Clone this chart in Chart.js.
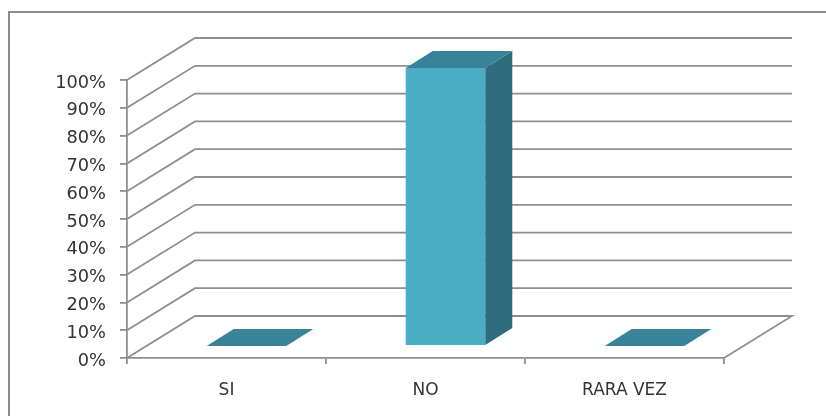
<!DOCTYPE html>
<html>
<head>
<meta charset="utf-8">
<style>
html,body{margin:0;padding:0;background:#fff;overflow:hidden}
#frame{position:absolute;left:8px;top:11px;width:830px;height:430px;border:2px solid #8c8c8c;box-sizing:border-box}
#holder{position:absolute;left:0;top:0;width:826px;height:416px}
</style>
<script src="https://cdn.jsdelivr.net/npm/chart.js@4"></script>
</head>
<body>
<div id="frame"></div>
<div id="holder"><canvas id="chart"></canvas></div>
<script>
const categories = ['SI', 'NO', 'RARA VEZ'];
const values = [0, 100, 0];
const yTicks = [0, 10, 20, 30, 40, 50, 60, 70, 80, 90, 100];

const colors = {front:'#4bacc6', top:'#388399', side:'#2f6c7e', grid:'#8e8e8e', text:'#333333'};

// depth of the fake 3d box, and of each bar inside it
const wallDepth = {x:68, y:-42};
const barShift = {x:20, y:-12};
const barDepth = {x:27, y:-17};

const walls3d = {
	id:'walls3d',
	beforeDraw(chart){
		// digits sit high with a middle baseline, nudge the y labels down
		for (const item of chart.scales.y.getLabelItems()){
			if (!item.nudged){
				item.options.translation[1] += 3;
				item.nudged = true;
			}
		}
	},
	beforeDatasetsDraw(chart){
		const {ctx, chartArea:a, scales} = chart;
		ctx.save();
		ctx.strokeStyle = colors.grid;
		ctx.lineWidth = 1.8;
		for (const v of yTicks){
			let y = scales.y.getPixelForValue(v);
			ctx.beginPath();
			ctx.moveTo(a.left, y);
			ctx.lineTo(a.left+wallDepth.x, y+wallDepth.y);
			ctx.lineTo(a.right+wallDepth.x, y+wallDepth.y);
			if (v == 0){
				ctx.lineTo(a.right, y);
			}
			ctx.stroke();
		}
		ctx.restore();
		// bars get drawn in the middle of the floor, not on the front edge
		ctx.save();
		ctx.translate(barShift.x, barShift.y);
	},
	afterDatasetsDraw(chart){
		const ctx = chart.ctx;
		for (const bar of chart.getDatasetMeta(0).data){
			let left = bar.x-bar.width/2, right = bar.x+bar.width/2;
			ctx.fillStyle = colors.side;
			ctx.beginPath();
			ctx.moveTo(right, bar.y);
			ctx.lineTo(right+barDepth.x, bar.y+barDepth.y);
			ctx.lineTo(right+barDepth.x, bar.base+barDepth.y);
			ctx.lineTo(right, bar.base);
			ctx.fill();
			ctx.fillStyle = colors.top;
			ctx.beginPath();
			ctx.moveTo(left, bar.y);
			ctx.lineTo(left+barDepth.x, bar.y+barDepth.y);
			ctx.lineTo(right+barDepth.x, bar.y+barDepth.y);
			ctx.lineTo(right, bar.y);
			ctx.fill();
		}
		ctx.restore();
	}
};

new Chart(document.getElementById('chart'), {
	type:'bar',
	data:{labels:categories, datasets:[{data:values, backgroundColor:colors.front, barPercentage:0.8, categoryPercentage:0.5}]},
	plugins:[walls3d],
	options:{
		responsive:true,
		maintainAspectRatio:false,
		animation:false,
		layout:{padding:{top:80, right:102, bottom:0, left:0}},
		plugins:{legend:{display:false}, tooltip:{enabled:false}},
		scales:{
			x:{
				afterFit(scale){ scale.height = 58; },
				grid:{offset:true, drawOnChartArea:false, color:colors.grid, lineWidth:1.8, tickLength:6},
				border:{color:colors.grid, width:1.8},
				ticks:{color:colors.text, padding:16, maxRotation:0, font:{family:'"DejaVu Sans"', size:17}}
			},
			y:{
				min:0, max:100,
				afterFit(scale){ scale.width = 127; },
				afterBuildTicks(scale){ scale.ticks = yTicks.map(v => ({value:v})); },
				grid:{drawOnChartArea:false, color:colors.grid, lineWidth:1.8, tickLength:7},
				border:{color:colors.grid, width:1.8},
				ticks:{color:colors.text, padding:14, callback:v => v+'%', font:{family:'"DejaVu Sans"', size:17.8}}
			}
		}
	}
});
</script>
</body>
</html>
